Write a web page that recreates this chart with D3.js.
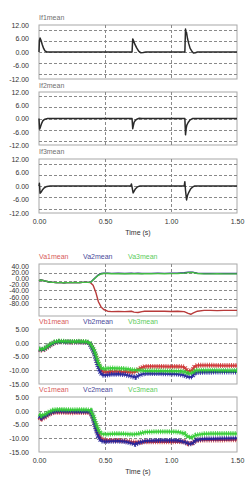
<!DOCTYPE html>
<html>
<head>
<meta charset="utf-8">
<script src="https://cdn.jsdelivr.net/npm/d3@7"></script>
<style>
  body { margin: 0; background: #fff; }
  svg { display: block; font-family: "Liberation Sans", Arial, sans-serif; }
</style>
</head>
<body>
<svg width="248" height="480"></svg>
<script>
// ---- data ----
var timeTicks = [0, 0.5, 1.0, 1.5];

var tIf1 = [0, 0.003, 0.008, 0.015, 0.025, 0.035, 0.045, 0.06, 0.705, 0.71, 0.715, 0.725, 0.74, 0.755, 0.77, 0.79, 0.81, 1.105, 1.11, 1.113, 1.117, 1.125, 1.135, 1.145, 1.16, 1.17, 1.185, 1.2, 1.5];
var if1  = [0, 5.0, 6.2, 5.2, 3.2, 1.6, 0.5, 0, 0, 5.8, 5.2, 3.6, 1.8, 0.4, -0.3, -0.2, 0, 0, 10.2, 8.4, 8.8, 6.0, 3.6, 1.6, 0.2, -0.4, -0.3, 0, 0];

var tIf2 = [0, 0.004, 0.01, 0.02, 0.03, 0.045, 0.065, 0.705, 0.71, 0.714, 0.72, 0.73, 0.745, 0.76, 0.78, 1.105, 1.11, 1.115, 1.12, 1.13, 1.145, 1.165, 1.5];
var if2  = [0, -4.8, -4.0, -2.2, -1.0, -0.3, 0, 0, -4.6, -3.4, -1.8, -0.8, -0.2, 0.1, 0, 0, -7.4, -4.5, -3.0, -1.8, -0.6, 0, 0];

var tIf3 = [0, 0.003, 0.008, 0.015, 0.025, 0.04, 0.06, 0.085, 0.695, 0.7, 0.705, 0.713, 0.72, 0.73, 0.745, 0.765, 1.1, 1.105, 1.11, 1.118, 1.125, 1.135, 1.15, 1.165, 1.18, 1.5];
var if3  = [0, 1.2, -3.2, -2.8, -1.8, -0.8, -0.2, 0, 0, 0.9, -0.5, -3.1, -2.4, -1.3, -0.4, 0, 0, 1.9, -2.0, -6.2, -4.2, -2.8, -1.2, -0.4, 0, 0];

var tVa = [0, 0.01, 0.03, 0.05, 0.07, 0.09, 0.11, 0.13, 0.15, 0.17, 0.19, 0.21, 0.23, 0.25, 0.27, 0.29, 0.31, 0.33, 0.35, 0.37, 0.39, 0.41, 0.43, 0.45, 0.47, 0.49, 0.52, 0.55, 0.6, 0.65, 0.7, 0.72, 0.75, 0.78, 0.8, 0.85, 0.9, 0.95, 1.0, 1.05, 1.1, 1.13, 1.15, 1.17, 1.2, 1.25, 1.3, 1.35, 1.4, 1.45, 1.5];
var va1 = [1.5, 3, 2, 0.5, -1, -2, -2.5, -3, -3, -3, -3.2, -3, -3, -3, -2.8, -3, -3, -2.5, -2.5, -2.5, -3, -9, -25, -47, -59, -65, -69, -70, -69.5, -70, -69, -71, -72, -70, -69, -69, -69, -69, -69.5, -69, -70, -74, -76, -73, -69, -67, -67, -67.5, -67, -67, -67];
var va2 = [1.5, 3, 2, 0.5, -1, -2, -2.5, -3, -3, -3, -3.2, -3, -3, -3, -2.8, -3, -3, -2.5, -2.5, -2.5, -2.5, 3.5, 9.5, 15, 18, 18.8, 18.8, 18.3, 18.5, 18.2, 18.6, 18.3, 18.5, 18.2, 18.4, 18.3, 18.5, 18.4, 18.6, 18.8, 19.8, 20.8, 21.2, 20.8, 18.8, 18, 18, 18.2, 18, 18.1, 18];
var va3 = [1.5, 3, 2, 0.5, -1, -2, -2.5, -3, -3, -3, -3.2, -3, -3, -3, -2.8, -3, -3, -2.5, -2.5, -2.5, -2.5, 3, 9, 14, 17, 18, 18, 17.5, 17.8, 17.4, 17.8, 17.5, 17.8, 17.4, 17.6, 17.5, 17.7, 17.6, 17.8, 18, 19, 20, 20.5, 20, 18, 17.2, 17.2, 17.4, 17.2, 17.3, 17.2];

var tVb = [0, 0.03, 0.06, 0.09, 0.12, 0.15, 0.2, 0.25, 0.3, 0.35, 0.38, 0.4, 0.42, 0.44, 0.46, 0.48, 0.5, 0.55, 0.6, 0.65, 0.7, 0.73, 0.76, 0.8, 0.9, 1.0, 1.05, 1.1, 1.13, 1.16, 1.18, 1.2, 1.3, 1.4, 1.5];
var vb1 = [-2.5, -2.8, -1.8, -0.8, 0, 0.4, 0.3, 0.2, 0.3, 0.2, 0, -1.5, -3.5, -6.5, -9, -10.5, -10.8, -10.5, -10.5, -10.6, -10.8, -10.6, -9.4, -8.6, -8.6, -8.7, -8.6, -8.8, -10.5, -10, -8.5, -8.2, -8.2, -8.3, -8.3];
var vb2 = [-2.3, -2.6, -1.6, -0.6, 0.1, 0.4, 0.3, 0.3, 0.3, 0.2, 0, -1.8, -4, -7.5, -10.5, -11.8, -11.8, -11.5, -11.4, -11.6, -12.2, -12.6, -11.8, -11.2, -11.2, -11.3, -11.4, -11.8, -12.5, -12.4, -11, -10.8, -10.7, -10.6, -10.6];
var vb3 = [-2.2, -2.4, -1.4, -0.4, 0.3, 0.6, 0.5, 0.4, 0.5, 0.4, 0.2, -1.2, -3, -6, -8.5, -9.5, -9.4, -9.2, -9.3, -9.4, -9.8, -9.9, -10, -10.2, -10.2, -10.3, -10.3, -10.5, -11.2, -11, -10.3, -10, -10, -10.1, -10.1];

var tVc = [0, 0.02, 0.05, 0.08, 0.11, 0.15, 0.2, 0.25, 0.3, 0.35, 0.39, 0.41, 0.43, 0.45, 0.47, 0.5, 0.55, 0.6, 0.65, 0.7, 0.73, 0.76, 0.8, 0.9, 1.0, 1.05, 1.1, 1.13, 1.16, 1.19, 1.25, 1.3, 1.4, 1.5];
var vc1 = [-2.5, -3, -2.2, -1.2, -0.6, -0.5, -0.6, -0.7, -0.6, -0.6, -0.7, -2.5, -5.5, -8.5, -10.2, -10.8, -10.8, -10.8, -11, -11.3, -11.4, -11.5, -11.3, -11.3, -11.3, -11.2, -11.3, -12, -11.8, -10.8, -10.6, -10.6, -10.6, -10.5];
var vc2 = [-2, -2.6, -1.8, -0.9, -0.3, -0.1, -0.2, -0.2, -0.3, -0.2, -0.3, -2.8, -6.5, -9.5, -11, -11.2, -11.1, -11, -11.2, -11.8, -12.2, -11.6, -11, -10.8, -10.8, -10.8, -11.3, -12, -12, -10.6, -10.2, -10.2, -10.1, -10];
var vc3 = [-1.2, -1.8, -1.2, -0.3, 0.3, 0.5, 0.4, 0.3, 0.4, 0.4, 0.2, -1.8, -4.5, -7, -8.3, -8.6, -8.4, -8.3, -8.4, -8.6, -8.5, -8.3, -7.8, -7.6, -7.6, -7.7, -8.2, -9.6, -9.6, -8.8, -8.4, -8.3, -8.3, -8.3];

var ifTicks = [12, 6, 0, -6, -12];
var vaTicks = [40, 20, 0, -20, -40, -60, -80];
var vbcTicks = [5, 0, -5, -10, -15];

// ---- layout ----
var svg = d3.select("svg");
var left = 39, right = 237;
var x = d3.scaleLinear().domain([0, 1.5]).range([left, right]);

var red = "#cc3333", blue = "#22229a", green = "#33cc33";
var fmt = function(d) { return d.toFixed(2); };

function panel(top, bottom, domain, ticks, labelRange) {
  var y = d3.scaleLinear().domain(domain).range([top, bottom]);
  var g = svg.append("g");

  g.append("rect")
    .attr("x", left).attr("y", top)
    .attr("width", right - left).attr("height", bottom - top)
    .attr("fill", "none").attr("stroke", "#a8a8a8");

  // dashed grid
  g.selectAll(".hg").data(y.ticks(ticks.length - 1).filter(function(d) { return d !== domain[0] && d !== domain[1]; }))
    .join("line").attr("class", "hg")
    .attr("x1", left).attr("x2", right)
    .attr("y1", function(d) { return Math.round(y(d)) + 0.5; })
    .attr("y2", function(d) { return Math.round(y(d)) + 0.5; })
    .attr("stroke", "#8a8a8a").attr("stroke-dasharray", "3,2");

  g.selectAll(".vg").data([0.5, 1.0])
    .join("line").attr("class", "vg")
    .attr("x1", function(d) { return Math.round(x(d)) + 0.5; })
    .attr("x2", function(d) { return Math.round(x(d)) + 0.5; })
    .attr("y1", top).attr("y2", bottom)
    .attr("stroke", "#8a8a8a").attr("stroke-dasharray", "3,2");

  // tick labels (the scope squeezes them on some panels)
  var ly = labelRange ? d3.scaleLinear().domain(domain).range(labelRange) : y;
  var ax = g.append("g")
    .attr("transform", "translate(29,0)")
    .call(d3.axisLeft(ly).tickValues(ticks).tickSize(0).tickPadding(0).tickFormat(fmt));
  ax.select(".domain").remove();
  ax.attr("font-size", 7).attr("font-family", null);
  ax.selectAll("text").attr("fill", "#333");

  return y;
}

function trace(y, t, v, color, width) {
  var line = d3.line()
    .x(function(d, i) { return x(t[i]); })
    .y(function(d) { return y(d); });
  svg.append("path").datum(v)
    .attr("d", line)
    .attr("fill", "none")
    .attr("stroke", color)
    .attr("stroke-width", width)
    .attr("stroke-linejoin", "round");
}

// ripple band look for the voltage traces
function band(y, t, v, color) {
  var line = d3.line()
    .x(function(d, i) { return x(t[i]); })
    .y(function(d) { return y(d); });
  svg.append("path").datum(v)
    .attr("d", line).attr("fill", "none")
    .attr("stroke", color).attr("stroke-width", 2.2).attr("opacity", 0.9);
  svg.append("path").datum(v)
    .attr("d", line).attr("fill", "none")
    .attr("stroke", color).attr("stroke-width", 5)
    .attr("stroke-dasharray", "1,1.2").attr("opacity", 0.85);
}

function title(y0, items) {
  svg.append("g").selectAll("text").data(items).join("text")
    .attr("x", function(d) { return d.x; })
    .attr("y", y0)
    .attr("font-size", 7)
    .attr("fill", function(d) { return d.c; })
    .text(function(d) { return d.s; });
}

function timeAxis(y0) {
  var ax = svg.append("g")
    .attr("transform", "translate(0," + y0 + ")")
    .call(d3.axisBottom(x).tickValues(timeTicks).tickSize(0).tickPadding(0).tickFormat(fmt));
  ax.select(".domain").remove();
  ax.attr("font-size", 7).attr("font-family", null);
  ax.selectAll("text").attr("fill", "#333");
  svg.append("text")
    .attr("x", (left + right) / 2).attr("y", y0 + 16)
    .attr("text-anchor", "middle").attr("font-size", 7).attr("fill", "#333")
    .text("Time (s)");
}

// ---- current panels ----
title(19.5, [{x: 39, s: "If1mean", c: "#707070"}]);
var y1 = panel(25, 79, [12, -12], ifTicks);
trace(y1, tIf1, if1, "#2a2a2a", 1.5);

title(87.5, [{x: 39, s: "If2mean", c: "#707070"}]);
var y2 = panel(92, 145, [12, -12], ifTicks);
trace(y2, tIf2, if2, "#2a2a2a", 1.5);

title(153.5, [{x: 39, s: "If3mean", c: "#707070"}]);
var y3 = panel(159, 213, [12, -12], ifTicks);
trace(y3, tIf3, if3, "#2a2a2a", 1.5);
timeAxis(219);

// ---- voltage panels ----
title(258.5, [{x: 39, s: "Va1mean", c: "#d85a5a"}, {x: 83, s: "Va2mean", c: "#4a4a9a"}, {x: 128, s: "Va3mean", c: "#5ccc5c"}]);
var y4 = panel(264, 316, [40, -80], vaTicks, [266, 303]);
trace(y4, tVa, va1, "#b83a3a", 1.4);
trace(y4, tVa, va2, "#2a2a80", 1.4);
trace(y4, tVa, va3, "#44bb44", 1.4);

title(323.5, [{x: 39, s: "Vb1mean", c: "#d85a5a"}, {x: 83, s: "Vb2mean", c: "#4a4a9a"}, {x: 128, s: "Vb3mean", c: "#5ccc5c"}]);
var y5 = panel(329, 384, [5, -15], vbcTicks);
band(y5, tVb, vb1, red);
band(y5, tVb, vb2, blue);
band(y5, tVb, vb3, green);

title(391.5, [{x: 39, s: "Vc1mean", c: "#d85a5a"}, {x: 83, s: "Vc2mean", c: "#4a4a9a"}, {x: 128, s: "Vc3mean", c: "#5ccc5c"}]);
var y6 = panel(397, 452, [5, -15], vbcTicks);
band(y6, tVc, vc1, red);
band(y6, tVc, vc2, blue);
band(y6, tVc, vc3, green);
timeAxis(458);
</script>
</body>
</html>
